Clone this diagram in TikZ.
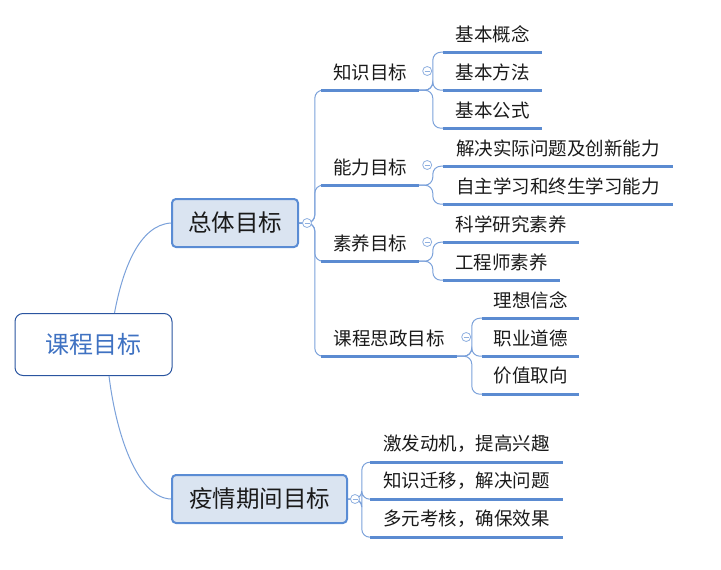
\documentclass[tikz,border=0pt]{standalone}
\usepackage{fontspec}
\setmainfont{Noto Sans CJK SC}
\usetikzlibrary{calc}
\definecolor{linec}{HTML}{5B8BD1}
\definecolor{connc}{HTML}{7BA1DA}
\definecolor{boxc}{HTML}{5A8CD4}
\definecolor{boxfill}{HTML}{DAE4F1}
\definecolor{rootc}{HTML}{2A55A0}
\definecolor{roottxt}{HTML}{3F72C2}
\definecolor{foldc}{HTML}{8FB0E0}
\definecolor{txt}{HTML}{1A1A1A}
\tikzset{
    rootbox/.style={draw=rootc, line width=1pt, rounded corners=8pt, fill=white,
        text=roottxt, font=\fontsize{24}{28}\selectfont,
        minimum width=157pt, minimum height=62pt},
    topbox/.style={draw=boxc, line width=2pt, rounded corners=4pt, fill=boxfill,
        text=txt, font=\fontsize{23.5}{28}\selectfont, minimum height=48pt},
    lab/.style={inner sep=0pt, minimum height=36pt, text=txt,
        font=\fontsize{18.5}{22}\selectfont},
    uline/.style={draw=linec, line width=3pt},
    conn/.style={draw=connc, line width=1pt, rounded corners=8pt},
    fold/.style={circle, draw=foldc, fill=white, line width=0.8pt,
        minimum size=9pt, inner sep=0pt,
        path picture={\draw[foldc, line width=0.8pt]
            ([xshift=-2.5pt]path picture bounding box.center) --
            ([xshift=2.5pt]path picture bounding box.center);}}
}

\begin{document}
\begin{tikzpicture}[x=1pt, y=-1pt]
\useasboundingbox (0,0) rectangle (721,570);
% main nodes
\node[rootbox] (root) at (93.5,344.5) {课程目标};
\node[topbox, minimum width=126pt] (zongti) at (235,223) {总体目标};
\node[topbox, minimum width=175pt] (yiqing) at (259.5,499) {疫情期间目标};
% second level
\node[lab, minimum width=98pt] (zhishi) at (370,72) {知识目标};
\node[lab, minimum width=98pt] (nengli) at (370,167) {能力目标};
\node[lab, minimum width=98pt] (suyang) at (370,243) {素养目标};
\node[lab, minimum width=136pt] (sizheng) at (389,338) {课程思政目标};
% leaves
\node[lab, minimum width=99pt] (gainian) at (492.5,34) {基本概念};
\node[lab, minimum width=99pt] (fangfa) at (492.5,72) {基本方法};
\node[lab, minimum width=99pt] (gongshi) at (492.5,110) {基本公式};
\node[lab, minimum width=230pt] (jiejue) at (558,148) {解决实际问题及创新能力};
\node[lab, minimum width=230pt] (zizhu) at (558,186) {自主学习和终生学习能力};
\node[lab, minimum width=136pt] (kexue) at (511,224) {科学研究素养};
\node[lab, minimum width=117pt] (gongcheng) at (501.5,262) {工程师素养};
\node[lab, minimum width=97pt] (lixiang) at (530.5,300) {理想信念};
\node[lab, minimum width=97pt] (zhiye) at (530.5,338) {职业道德};
\node[lab, minimum width=97pt] (jiazhi) at (530.5,376) {价值取向};
\node[lab, minimum width=193pt] (jifa) at (466.5,444) {激发动机，提高兴趣};
\node[lab, minimum width=193pt] (qianyi) at (466.5,481) {知识迁移，解决问题};
\node[lab, minimum width=193pt] (duoyuan) at (466.5,519) {多元考核，确保效果};

% root to main topics
\draw[conn] ([xshift=21pt]root.north) .. controls +(8,-43) and +(-32,2) .. (zongti.west);
\draw[conn] ([xshift=15.5pt]root.south) .. controls +(8,64) and +(-32,-1) .. (yiqing.west);
% branches
\foreach \c in {zhishi,nengli,suyang,sizheng}
    \draw[conn] (zongti.east) -| ([xshift=-6pt]\c.south west) -- (\c.south west);
\foreach \c in {jifa,qianyi,duoyuan}
    \draw[conn] (yiqing.east) -| ([xshift=-8pt]\c.south west) -- (\c.south west);
\foreach \c in {gainian,fangfa,gongshi}
    \draw[conn] (zhishi.south east) -| ([xshift=-10pt]\c.south west) -- (\c.south west);
\foreach \c in {jiejue,zizhu}
    \draw[conn] (nengli.south east) -| ([xshift=-10pt]\c.south west) -- (\c.south west);
\foreach \c in {kexue,gongcheng}
    \draw[conn] (suyang.south east) -| ([xshift=-10pt]\c.south west) -- (\c.south west);
\foreach \c in {lixiang,zhiye,jiazhi}
    \draw[conn] (sizheng.south east) -| ([xshift=-10pt]\c.south west) -- (\c.south west);
% underlines
\foreach \n in {zhishi,nengli,suyang,sizheng,gainian,fangfa,gongshi,jiejue,zizhu,
        kexue,gongcheng,lixiang,zhiye,jiazhi,jifa,qianyi,duoyuan}
    \draw[uline] (\n.south west) -- (\n.south east);
% fold markers
\node[fold] (fz) at ([xshift=8pt]zongti.east) {};
\node[fold] (fy) at ([xshift=7pt]yiqing.east) {};
\node[fold] (f1) at ([xshift=8pt,yshift=1pt]zhishi.east) {};
\node[fold] (f2) at ([xshift=8pt,yshift=2pt]nengli.east) {};
\node[fold] (f3) at ([xshift=8pt,yshift=1pt]suyang.east) {};
\node[fold] (f4) at ([xshift=9pt,yshift=1pt]sizheng.east) {};
\end{tikzpicture}
\end{document}
